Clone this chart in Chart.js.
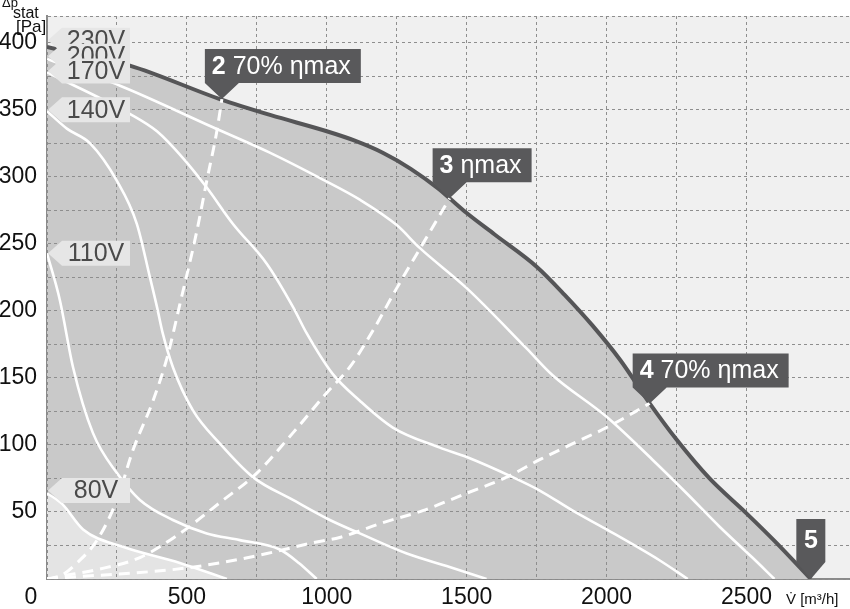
<!DOCTYPE html>
<html>
<head>
<meta charset="utf-8">
<script src="https://cdn.jsdelivr.net/npm/chart.js@4/dist/chart.umd.min.js"></script>
<style>
html, body { margin: 0; padding: 0; background: #fff; }
#wrap { width: 850px; height: 609px; }
</style>
</head>
<body>
<div id="wrap"><canvas id="fanChart" width="850" height="609"></canvas></div>
<script>
// fan curves, volume flow [m3/h] against static pressure [Pa]
const curve230X = [0, 296, 618, 800, 1000, 1100, 1200, 1300, 1400, 1439, 1500, 1600, 1750, 1850, 1950, 2050, 2154, 2250, 2368, 2500, 2607, 2730];
const curve230Y = [397, 383, 358, 346, 334, 327, 318, 306, 291, 284, 273, 257, 233, 212, 189, 163, 131, 104, 75, 49, 27, 0];
const curve200X = [0, 261, 593, 807, 986, 1118, 1250, 1332, 1500, 1714, 1807, 2000, 2164, 2286, 2404, 2521, 2600];
const curve200Y = [388, 368, 337, 317, 298, 283, 264, 247, 217, 172, 152, 121, 89, 64, 39, 16, 0];
const curve170X = [0, 296, 393, 486, 571, 664, 786, 879, 929, 1021, 1118, 1236, 1404, 1500, 1664, 1761, 1879, 2000, 2189, 2290];
const curve170Y = [378, 347, 334, 314, 292, 265, 235, 203, 183, 153, 133, 113, 98, 91, 76, 66, 51, 37, 14, 0];
const curve140X = [0, 71, 154, 250, 321, 368, 393, 414, 450, 521, 618, 736, 879, 1011, 1118, 1286, 1439, 1571];
const curve140Y = [349, 336, 325, 297, 265, 225, 203, 183, 158, 126, 101, 76, 59, 44, 34, 19, 9, 0];
const curve110X = [0, 46, 93, 164, 250, 332, 450, 571, 689, 832, 900, 964];
const curve110Y = [243, 208, 158, 109, 79, 59, 44, 34, 29, 22, 12, 0];
const curve80X = [0, 54, 129, 271, 475, 643];
const curve80Y = [64, 56, 37, 24, 12, 0];

// efficiency lines
const eff2X = [0, 46, 107, 179, 250, 307, 379, 429, 475, 536, 571, 607, 625];
const eff2Y = [0, 2, 12, 29, 59, 96, 133, 165, 205, 260, 297, 334, 358];
const eff3X = [0, 46, 179, 332, 475, 618, 750, 879, 1000, 1082, 1164, 1250, 1343, 1439];
const eff3Y = [0, 2, 7, 16, 34, 57, 79, 109, 139, 158, 185, 217, 250, 284];
const eff4X = [0, 93, 271, 450, 618, 786, 950, 1046, 1200, 1343, 1500, 1643, 1761, 1879, 2000, 2154];
const eff4Y = [0, 1.5, 4, 7, 12, 19, 27, 31, 42, 51, 64, 76, 89, 101, 113, 131];

// voltage tags on the pressure axis
const voltLabels = ['230V', '200V', '170V', '140V', '110V', '80V'];
const voltTagAt = [402, 390, 379, 350, 243, 66];

// operating point markers
const markerNums = ['2', '3', '4', '5'];
const markerTexts = [' 70% \u03b7max', ' \u03b7max', ' 70% \u03b7max', ''];
const markerX = [625, 1439, 2154, 2730];
const markerY = [358, 284, 131, 0];

const xTickLabels = [500, 1000, 1500, 2000, 2500];
const yTickLabels = [50, 100, 150, 200, 250, 300, 350, 400];

const FONT = '"Liberation Sans", Arial, sans-serif';
Chart.defaults.font.family = FONT;

function pts(xs, ys) {
    return xs.map((x, i) => ({ x: x, y: ys[i] }));
}

function whiteLine(xs, ys) {
    return { data: pts(xs, ys), borderColor: '#ffffff', borderWidth: 2.6, fill: false };
}

function dashLine(xs, ys) {
    return { data: pts(xs, ys), borderColor: '#ffffff', borderWidth: 3, borderDash: [11, 7], fill: false };
}

const plotBackground = {
    id: 'plotBackground',
    beforeDraw(chart) {
        const a = chart.chartArea;
        const ctx = chart.ctx;
        ctx.save();
        ctx.fillStyle = '#f0f0f0';
        ctx.fillRect(a.left, a.top, a.right - a.left, a.bottom - a.top);
        ctx.restore();
    },
    beforeDatasetsDraw(chart) {
        // grid again on top of the filled areas
        chart.scales.x.drawGrid(chart.chartArea);
        chart.scales.y.drawGrid(chart.chartArea);
    }
};

const tagsPlugin = {
    id: 'tags',
    afterDraw(chart) {
        const ctx = chart.ctx;
        const x = chart.scales.x;
        const y = chart.scales.y;
        const left = chart.chartArea.left;
        ctx.save();

        // voltage tags
        ctx.font = '25px ' + FONT;
        ctx.textAlign = 'center';
        ctx.textBaseline = 'middle';
        voltLabels.forEach(function (txt, i) {
            const ty = y.getPixelForValue(voltTagAt[i]);
            const h = 25;
            ctx.fillStyle = '#e6e6e6';
            ctx.beginPath();
            ctx.moveTo(left + 1, ty);
            ctx.lineTo(left + 15, ty - h / 2);
            ctx.lineTo(left + 83, ty - h / 2);
            ctx.lineTo(left + 83, ty + h / 2);
            ctx.lineTo(left + 15, ty + h / 2);
            ctx.closePath();
            ctx.fill();
            ctx.fillStyle = '#4a4a4a';
            ctx.fillText(txt, left + 49, ty + 1);
        });

        // operating point markers
        ctx.textAlign = 'left';
        markerNums.forEach(function (num, i) {
            const px = x.getPixelForValue(markerX[i]);
            const py = y.getPixelForValue(markerY[i]);
            ctx.font = 'bold 25px ' + FONT;
            const wNum = ctx.measureText(num).width;
            ctx.font = '25px ' + FONT;
            const wTxt = ctx.measureText(markerTexts[i]).width;
            ctx.fillStyle = '#59595b';
            ctx.beginPath();
            let bx, by, bw, bh, tx;
            if (markerTexts[i]) {
                bw = wNum + wTxt + 17;
                bh = 34;
                bx = px - 17;
                by = py - 16 - bh;
                ctx.moveTo(bx, by);
                ctx.lineTo(bx + bw, by);
                ctx.lineTo(bx + bw, by + bh);
                ctx.lineTo(bx + 34, by + bh);
                ctx.lineTo(px, py);
                ctx.lineTo(bx, by + bh);
                tx = bx + 7;
            } else {
                bw = 29;
                bh = 43;
                bx = px - bw / 2;
                by = py - 17 - bh;
                ctx.moveTo(bx, by);
                ctx.lineTo(bx + bw, by);
                ctx.lineTo(bx + bw, by + bh);
                ctx.lineTo(px, py);
                ctx.lineTo(bx, by + bh);
                tx = px - wNum / 2;
            }
            ctx.closePath();
            ctx.fill();
            ctx.fillStyle = '#ffffff';
            ctx.textBaseline = 'middle';
            ctx.font = 'bold 25px ' + FONT;
            ctx.fillText(num, tx, by + bh / 2 + 1);
            ctx.font = '25px ' + FONT;
            ctx.fillText(markerTexts[i], tx + wNum, by + bh / 2 + 1);
        });

        // corner zero and axis titles
        ctx.fillStyle = '#111';
        ctx.textAlign = 'center';
        ctx.font = '23px ' + FONT;
        ctx.fillText('0', left - 16, 598);

        ctx.textAlign = 'left';
        ctx.textBaseline = 'alphabetic';
        ctx.font = '13px ' + FONT;
        ctx.fillText('\u0394p', 2, 7);
        ctx.font = '16px ' + FONT;
        ctx.fillText('stat', 13, 18);
        ctx.font = '17px ' + FONT;
        ctx.fillText('[Pa]', 16, 32);

        ctx.font = '15px ' + FONT;
        ctx.fillText('V\u0307 [m\u00b3/h]', 786, 604);
        ctx.restore();
    }
};

const ctx = document.getElementById('fanChart').getContext('2d');
new Chart(ctx, {
    type: 'line',
    data: {
        datasets: [
            Object.assign(whiteLine(curve80X, curve80Y), { fill: 'origin', backgroundColor: '#e4e4e4' }),
            whiteLine(curve110X, curve110Y),
            whiteLine(curve140X, curve140Y),
            whiteLine(curve170X, curve170Y),
            whiteLine(curve200X, curve200Y),
            dashLine(eff2X, eff2Y),
            dashLine(eff3X, eff3Y),
            dashLine(eff4X, eff4Y),
            { data: pts(curve230X, curve230Y), borderColor: '#555557', borderWidth: 4, fill: 'origin', backgroundColor: '#c9c9c9' }
        ]
    },
    options: {
        responsive: false,
        animation: false,
        devicePixelRatio: 1,
        layout: { padding: { top: 16, right: 0, left: 0, bottom: 0 } },
        elements: {
            point: { radius: 0 },
            line: { cubicInterpolationMode: 'monotone' }
        },
        plugins: {
            legend: { display: false },
            tooltip: { enabled: false },
            filler: { drawTime: 'beforeDatasetsDraw' }
        },
        scales: {
            x: {
                type: 'linear',
                min: 0,
                max: 2870,
                afterFit: function (scale) {
                    scale.height = 30;
                    scale.paddingLeft = 0;
                    scale.paddingRight = 0;
                },
                grid: { color: '#8e8e8e', lineWidth: 1, drawTicks: false },
                border: { color: '#8a8a8a', width: 2, dash: [3, 3] },
                ticks: {
                    stepSize: 250,
                    autoSkip: false,
                    maxRotation: 0,
                    padding: 5,
                    color: '#111',
                    font: { size: 23 },
                    callback: function (v) { return xTickLabels.includes(v) ? String(v) : ''; }
                }
            },
            y: {
                min: 0,
                max: 420,
                afterFit: function (scale) {
                    scale.width = 47;
                    scale.paddingTop = 0;
                    scale.paddingBottom = 0;
                },
                grid: { color: '#8e8e8e', lineWidth: 1, drawTicks: false },
                border: { color: '#8a8a8a', width: 2, dash: [3, 3] },
                ticks: {
                    stepSize: 25,
                    autoSkip: false,
                    padding: 10,
                    color: '#111',
                    font: { size: 23 },
                    callback: function (v) { return yTickLabels.includes(v) ? String(v) : ''; }
                }
            }
        }
    },
    plugins: [plotBackground, tagsPlugin]
});
</script>
</body>
</html>
